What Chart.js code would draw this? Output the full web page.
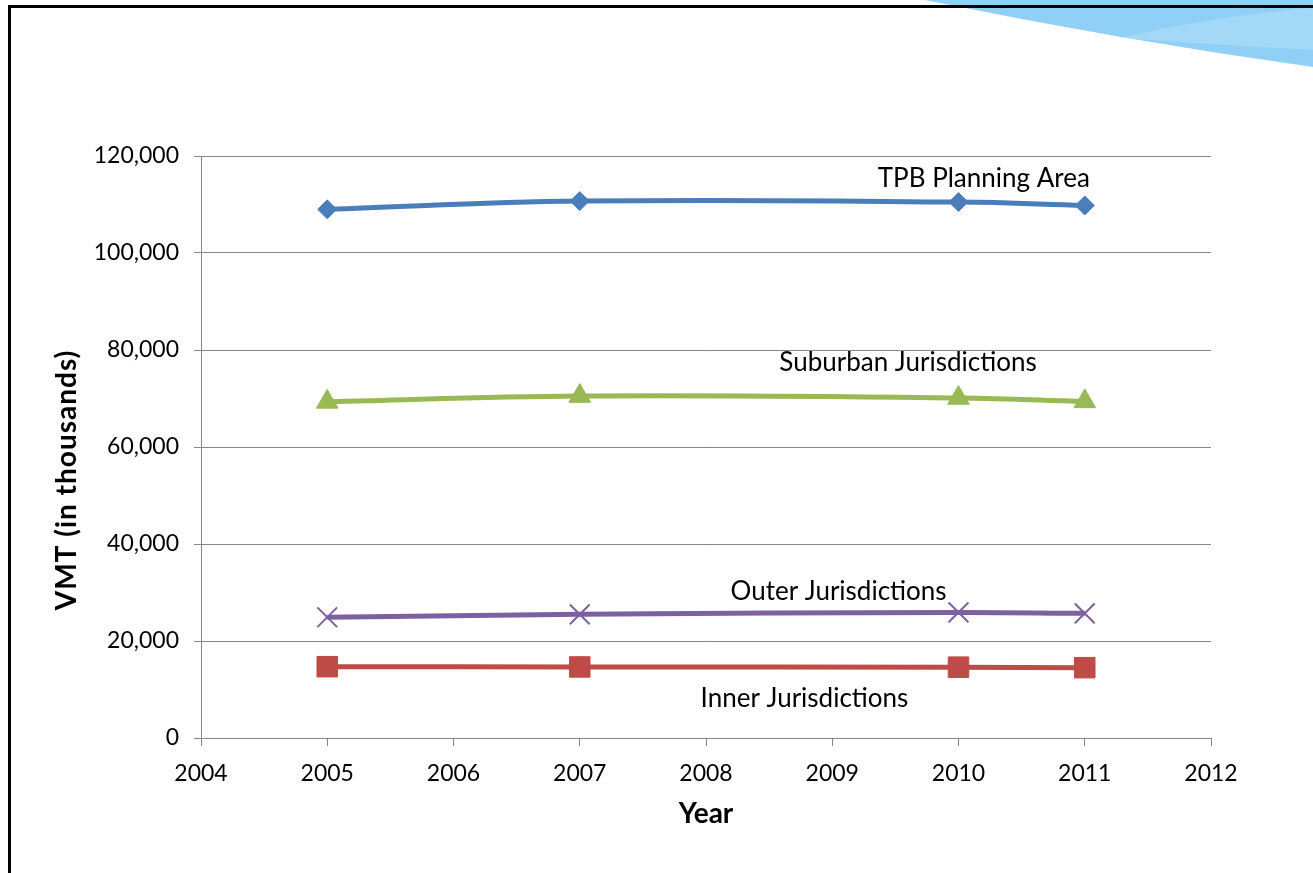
<!DOCTYPE html>
<html>
<head>
<meta charset="utf-8">
<title>VMT by jurisdiction</title>
<script src="https://cdn.jsdelivr.net/npm/chart.js@4.4.1/dist/chart.umd.min.js"></script>
<style>
  html, body { margin: 0; padding: 0; background: #fff; }
  #wrap { width: 1313px; height: 873px; position: relative; }
</style>
</head>
<body>
<div id="wrap"><canvas id="vmtChart" width="1313" height="873"></canvas></div>
<script>
// data (VMT in thousands)
const years = [2005, 2007, 2010, 2011];
const tpbArea = [109000, 110700, 110500, 109800];
const innerJur = [14700, 14650, 14600, 14500];
const suburbanJur = [69300, 70500, 70100, 69400];
const outerJur = [24900, 25500, 25900, 25700];

const seriesNames = ['TPB Planning Area', 'Inner Jurisdictions', 'Suburban Jurisdictions', 'Outer Jurisdictions'];
const yTicks = [0, 20000, 40000, 60000, 80000, 100000, 120000];
const xTicks = [2004, 2005, 2006, 2007, 2008, 2009, 2010, 2011, 2012];

// where the series names sit, in axis units
const labelAnchors = [[2010.2, 115400], [2008.78, 8200], [2009.6, 77500], [2009.05, 30100]];

const FONT = 'Lato, "Open Sans", sans-serif';
const GRID = '#868686';

function pts(vals) {
  return years.map((y, i) => ({ x: y, y: vals[i] }));
}

// slide decoration: frame + blue swoosh top right
const slideDeco = {
  id: 'slideDeco',
  beforeDraw(chart) {
    const ctx = chart.ctx;
    ctx.save();
    ctx.fillStyle = '#fff';
    ctx.fillRect(0, 0, chart.width, chart.height);
    ctx.fillStyle = '#90d0f6';
    ctx.beginPath();
    ctx.moveTo(925, 0);
    ctx.quadraticCurveTo(1120, 40, 1313, 67);
    ctx.lineTo(1313, 0);
    ctx.closePath();
    ctx.fill();
    ctx.fillStyle = 'rgba(255,255,255,0.18)';
    ctx.beginPath();
    ctx.moveTo(1120, 38);
    ctx.quadraticCurveTo(1220, 15, 1313, 8);
    ctx.lineTo(1313, 50);
    ctx.quadraticCurveTo(1220, 45, 1120, 38);
    ctx.fill();
    ctx.strokeStyle = '#000';
    ctx.lineWidth = 3;
    ctx.beginPath();
    ctx.moveTo(9.5, 900);
    ctx.lineTo(9.5, 6.5);
    ctx.lineTo(1320, 6.5);
    ctx.stroke();
    ctx.restore();
  }
};

// series names and the rotated y title
const textLabels = {
  id: 'textLabels',
  afterDraw(chart) {
    const ctx = chart.ctx;
    const xs = chart.scales.x, ys = chart.scales.y;
    ctx.save();
    ctx.fillStyle = '#000';
    ctx.font = '26px ' + FONT;
    ctx.textAlign = 'center';
    ctx.textBaseline = 'middle';
    labelAnchors.forEach((a, i) => {
      ctx.fillText(seriesNames[i], xs.getPixelForValue(a[0]), ys.getPixelForValue(a[1]));
    });
    ctx.font = 'bold 28px ' + FONT;
    ctx.letterSpacing = '1px';
    ctx.translate(67, 480);
    ctx.rotate(-Math.PI / 2);
    ctx.fillText('VMT (in thousands)', 0, 0);
    ctx.restore();
  }
};

new Chart(document.getElementById('vmtChart'), {
  type: 'line',
  data: {
    datasets: [
      {
        label: seriesNames[0], data: pts(tpbArea),
        borderColor: '#4a7ebb', backgroundColor: '#4a7ebb', borderWidth: 5,
        pointStyle: 'rectRot', pointRadius: 9.5, pointBorderWidth: 1
      },
      {
        label: seriesNames[1], data: pts(innerJur),
        borderColor: '#be4b48', backgroundColor: '#be4b48', borderWidth: 5,
        pointStyle: 'rect', pointRadius: 14.5, pointBorderWidth: 1
      },
      {
        label: seriesNames[2], data: pts(suburbanJur),
        borderColor: '#98b954', backgroundColor: '#98b954', borderWidth: 5,
        pointStyle: 'triangle', pointRadius: 12.5, pointBorderWidth: 1
      },
      {
        label: seriesNames[3], data: pts(outerJur),
        borderColor: '#7d60a0', backgroundColor: '#7d60a0', borderWidth: 5,
        pointStyle: 'crossRot', pointRadius: 14, pointBorderWidth: 2
      }
    ]
  },
  options: {
    responsive: false,
    devicePixelRatio: 1,
    animation: false,
    layout: { padding: { top: 156, right: 102, bottom: 35, left: 0 } },
    plugins: { legend: { display: false }, tooltip: { enabled: false } },
    elements: { line: { tension: 0.4 } },
    scales: {
      x: {
        type: 'linear', min: 2004, max: 2012,
        afterBuildTicks: (s) => { s.ticks = xTicks.map(v => ({ value: v })); },
        afterFit: (s) => { s.height = 100; },
        ticks: { color: '#000', font: { family: FONT, size: 23 }, padding: 14, callback: (v) => String(v) },
        grid: { drawOnChartArea: false, drawTicks: true, tickLength: 8, color: GRID, lineWidth: 1 },
        border: { color: GRID, width: 1 },
        title: { display: true, text: 'Year', color: '#000', font: { family: FONT, size: 28, weight: 'bold' }, padding: { top: 0, bottom: 7 } }
      },
      y: {
        min: 0, max: 120000,
        afterBuildTicks: (s) => { s.ticks = yTicks.map(v => ({ value: v })); },
        afterFit: (s) => { s.width = 201; },
        ticks: { color: '#000', font: { family: FONT, size: 23 }, padding: 15, callback: (v) => v.toLocaleString('en-US') },
        grid: { color: GRID, lineWidth: 1, tickLength: 7 },
        border: { color: GRID, width: 1 }
      }
    }
  },
  plugins: [slideDeco, textLabels]
});
</script>
</body>
</html>
